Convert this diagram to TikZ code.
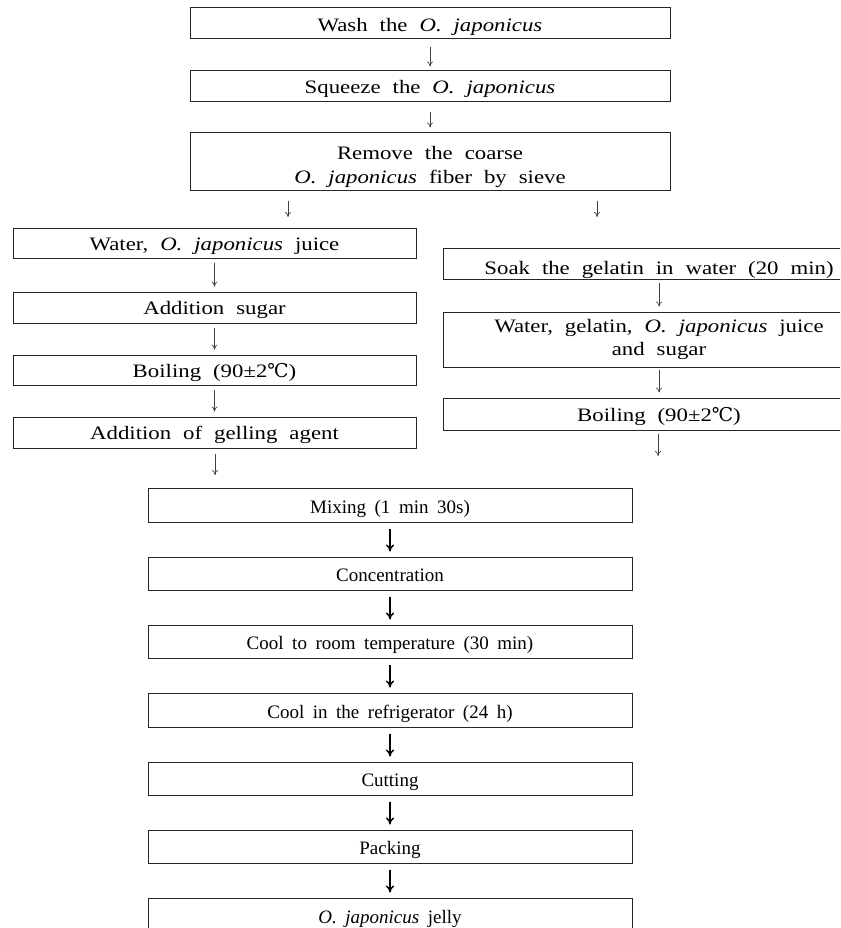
\documentclass[tikz,border=0pt]{standalone}
\usepackage{fontspec}
\setmainfont[WordSpace=1.8]{Liberation Serif}
\newfontfamily\wideserif[FakeStretch=1.2, WordSpace=2.1]{Liberation Serif}
\newfontfamily\degfont{DejaVu Serif}
\usetikzlibrary{arrows.meta}
\newcommand{\ojap}{\textit{O.~japonicus}}
\newcommand{\degc}{{\degfont ℃}}
\tikzset{
    box/.style={draw=black!85, line width=1pt, rectangle, minimum height=31pt, align=center, inner sep=0pt,
        text height=16pt, text depth=0pt, font=\fontsize{19}{23}\selectfont},
    upbox/.style={box, text height=15pt, text depth=1pt, font=\wideserif\fontsize{19}{23.5}\selectfont},
    twolines/.style={text height={}, text depth={}},
    flow/.style={draw=black!75, line width=0.7pt, -{To[length=5pt,width=6pt]}},
    mainflow/.style={line width=1.4pt, -{To[length=7pt,width=8pt]}}
}

\begin{document}
\begin{tikzpicture}[x=1pt,y=-1pt]
    \useasboundingbox (0,0) rectangle (840,928);
    \clip (0,0) rectangle (840,928);

    % common start
    \node[upbox, minimum width=480pt, text height=18pt] (wash) at (430,23.5) {Wash the \ojap};
    \node[upbox, minimum width=480pt] (squeeze) at (430,86.5) {Squeeze the \ojap};
    \node[upbox, twolines, minimum width=480pt, minimum height=57pt] (sieve) at (430,161.5) {\rule{0pt}{24pt}Remove the coarse\\\ojap{} fiber by sieve};
    \draw[flow, shorten <=8pt, shorten >=4pt] (wash) -- (squeeze);
    \draw[flow, shorten <=10pt, shorten >=5pt] (squeeze) -- (sieve);

    % branches
    \coordinate (brL) at (288,217);
    \coordinate (brR) at (597,217);
    \draw[flow] (sieve.south -| brL) ++(0,10) -- (brL);
    \draw[flow] (sieve.south -| brR) ++(0,10) -- (brR);

    % left column
    \node[upbox, minimum width=403pt, minimum height=30pt] (water) at (214.5,243) {Water, \ojap{} juice};
    \node[upbox, minimum width=403pt] (sugar) at (214.5,307.5) {Addition sugar};
    \node[upbox, minimum width=403pt, minimum height=30pt] (boilL) at (214.5,370) {Boiling (90±2\degc)};
    \node[upbox, minimum width=403pt] (gel) at (214.5,432.5) {Addition of gelling agent};
    \coordinate (endL) at (215,475);
    \draw[flow, shorten <=4pt, shorten >=5pt] (water) -- (sugar);
    \draw[flow, shorten <=4pt, shorten >=5pt] (sugar) -- (boilL);
    \draw[flow, shorten <=4pt, shorten >=5pt] (boilL) -- (gel);
    \draw[flow] (gel.south -| endL) ++(0,5) -- (endL);

    % right column
    \node[upbox, minimum width=432pt, text height=22pt] (soak) at (659,263.5) {Soak the gelatin in water (20 min)};
    \node[upbox, twolines, minimum width=432pt, minimum height=55pt] (blend) at (659,339.5) {Water, gelatin, \ojap{} juice\\and sugar};
    \node[upbox, minimum width=432pt, minimum height=32pt] (boilR) at (659,414) {Boiling (90±2\degc)};
    \coordinate (endR) at (658,456);
    \draw[flow, shorten <=3pt, shorten >=5pt] (soak) -- (blend);
    \draw[flow, shorten <=2pt, shorten >=5pt] (blend) -- (boilR);
    \draw[flow] (boilR.south -| endR) ++(0,3) -- (endR);

    % merged steps
    \node[box, minimum width=484pt, minimum height=34pt] (mix) at (390,505) {Mixing (1 min 30s)};
    \node[box, minimum width=484pt, minimum height=33pt] (conc) at (390,573.5) {Concentration};
    \node[box, minimum width=484pt, minimum height=33pt] (room) at (390,641.5) {Cool to room temperature (30 min)};
    \node[box, minimum width=484pt, minimum height=34pt] (fridge) at (390,710) {Cool in the refrigerator (24 h)};
    \node[box, minimum width=484pt, minimum height=33pt] (cut) at (390,778.5) {Cutting};
    \node[box, minimum width=484pt, minimum height=33pt] (pack) at (390,846.5) {Packing};
    \node[box, minimum width=484pt, minimum height=34pt] (jelly) at (390,915) {\ojap{} jelly};
    \foreach \a/\b in {mix/conc, conc/room, room/fridge, fridge/cut, cut/pack, pack/jelly}
        \draw[mainflow, shorten <=6pt, shorten >=5pt] (\a) -- (\b);
\end{tikzpicture}
\end{document}
